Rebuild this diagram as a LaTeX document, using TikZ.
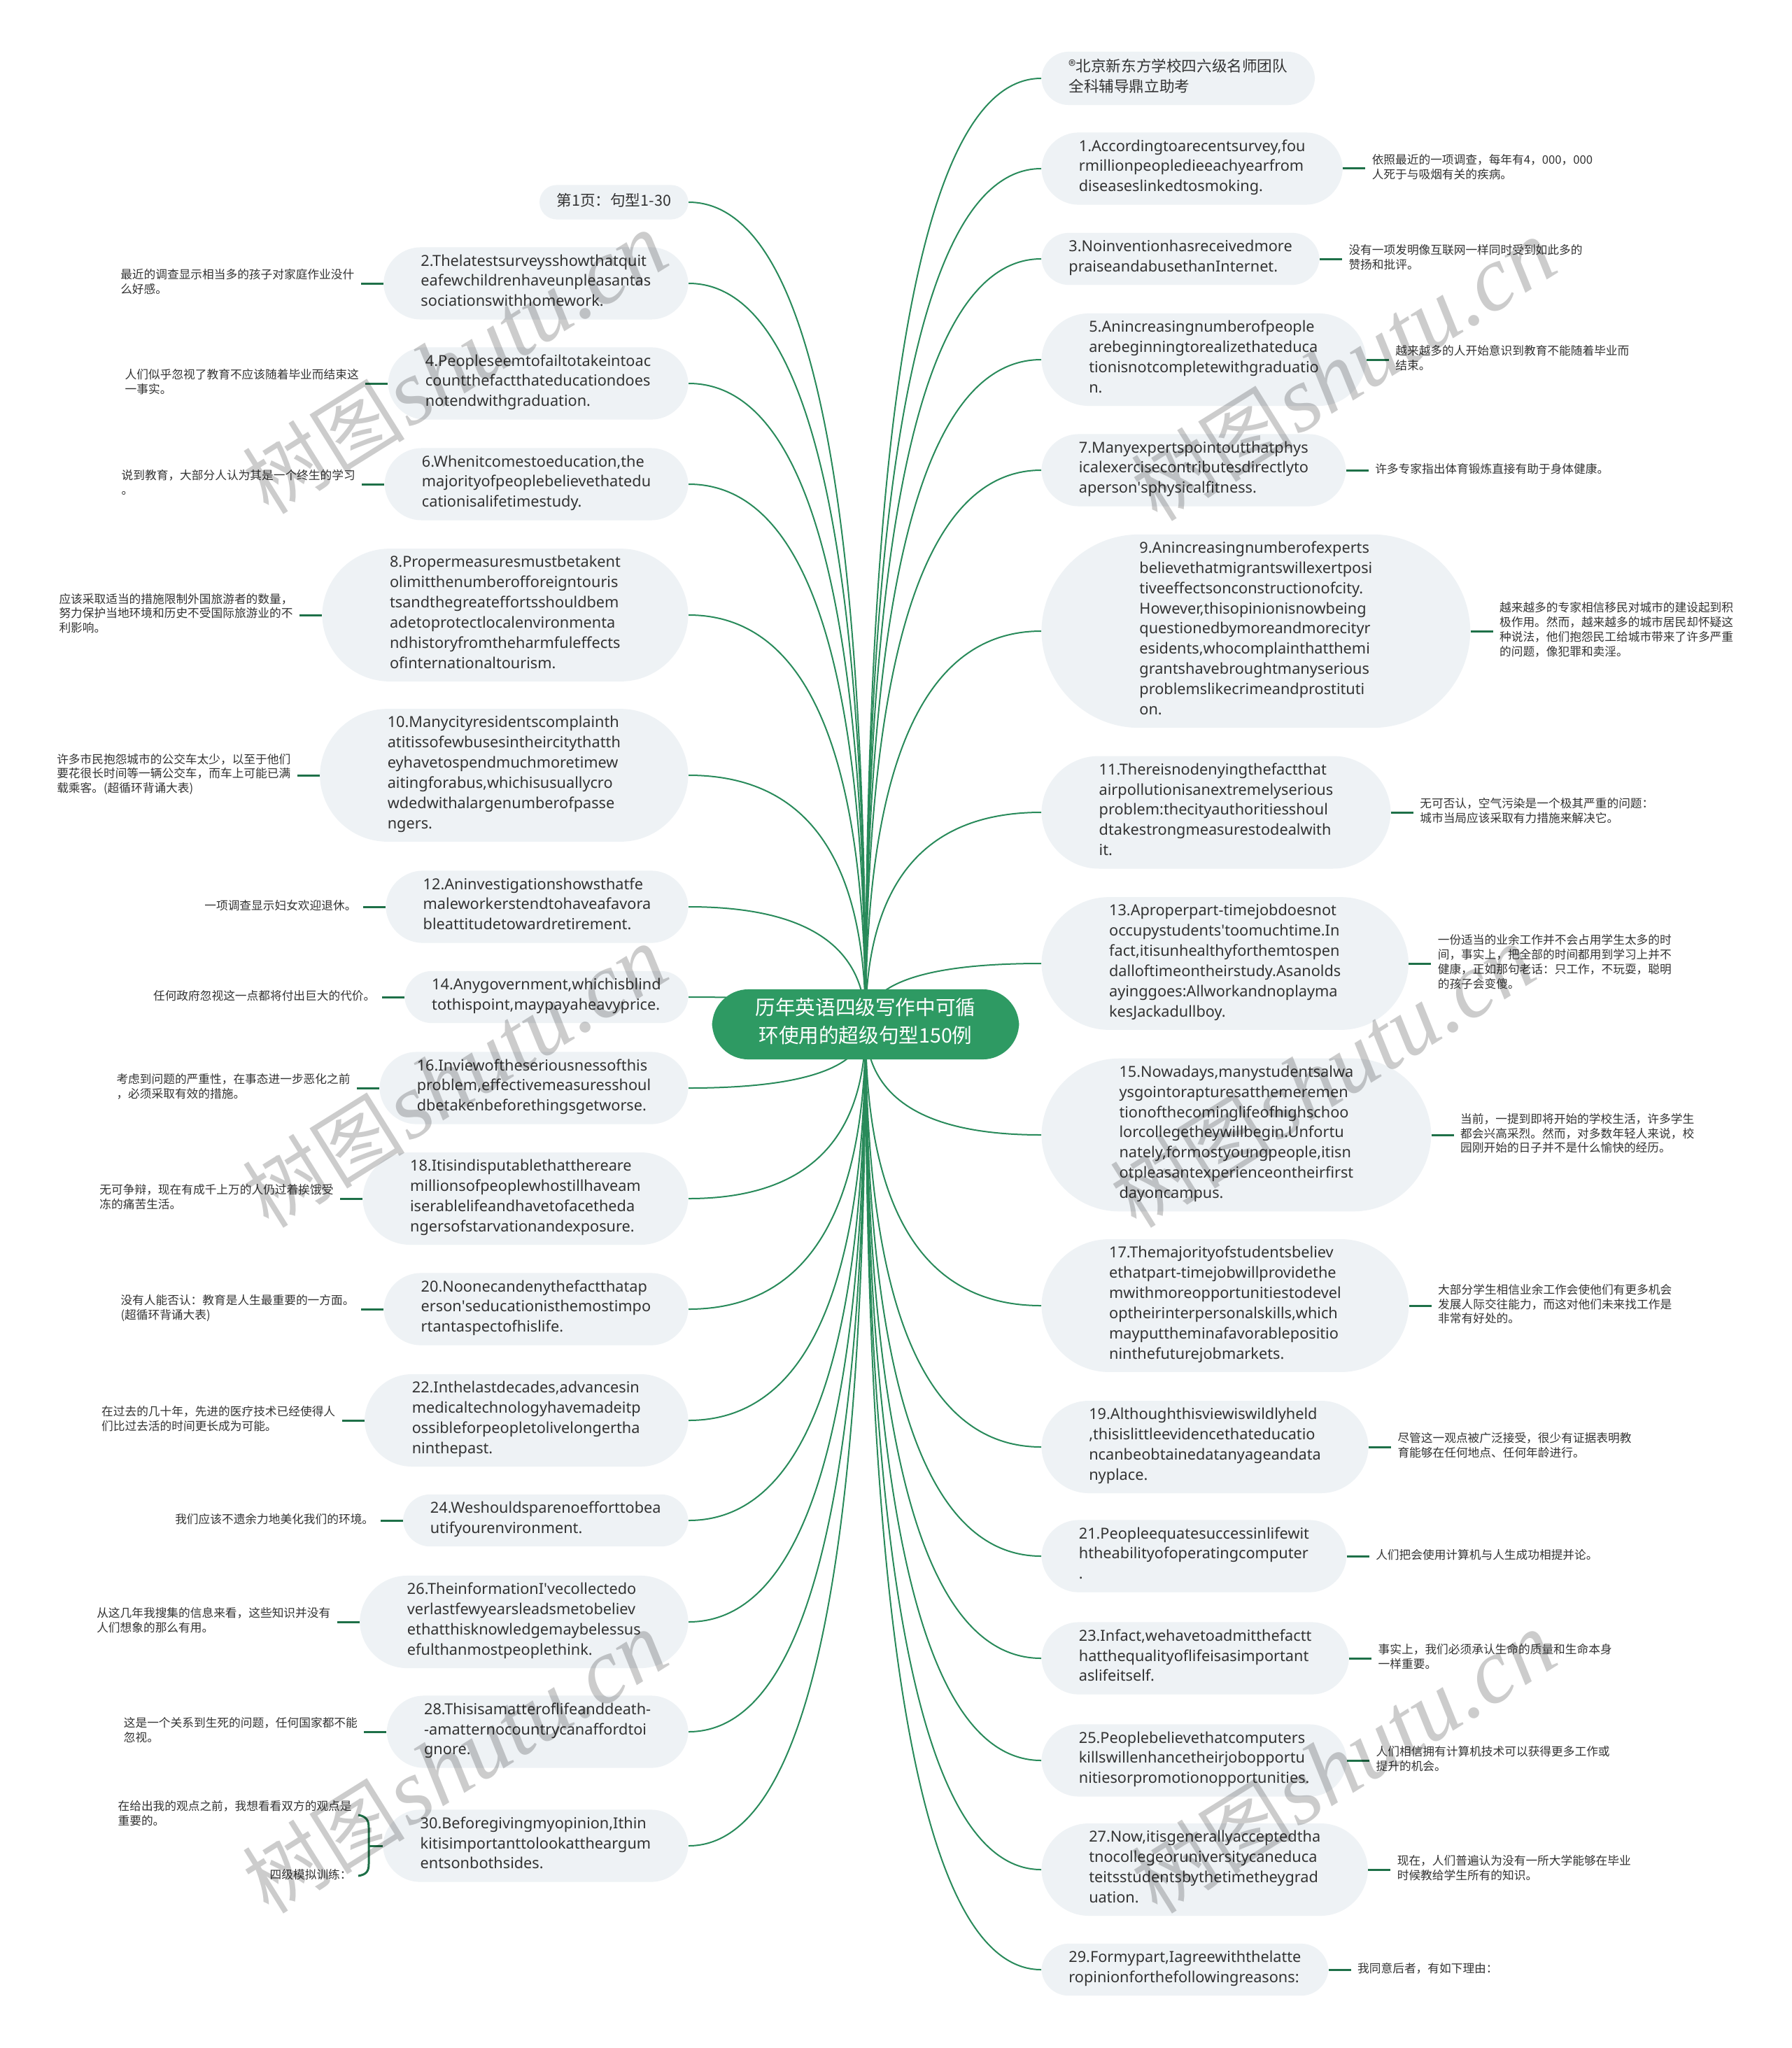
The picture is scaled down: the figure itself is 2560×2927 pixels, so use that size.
\documentclass[tikz,border=0pt]{standalone}
\usepackage{fontspec}
\setmainfont{Noto Sans}
\newfontfamily\cjk{Noto Sans CJK SC}
\newfontfamily\wmlat{Liberation Serif}
\usetikzlibrary{calc}
\pgfdeclarelayer{bg}
\pgfsetlayers{bg,main}
\definecolor{boxfill}{RGB}{238,242,245}
\definecolor{rootfill}{RGB}{46,154,99}
\definecolor{curvec}{RGB}{40,138,90}
\definecolor{stubc}{RGB}{30,112,72}
\definecolor{txt}{RGB}{51,51,51}
\newcommand{\apos}{\textquotesingle}
\newcommand{\rightitem}[5]{%
  \node[rsent,k#3] (r#1) at (1488,#2) {#4};
  \node[note,anchor=west] (n#1) at ($(r#1.east)+(32,0)$) {#5};
  \draw[stub] (r#1.east) -- (n#1.west);
  \begin{pgfonlayer}{bg}
  \draw[conn] (root.center) .. controls ($(root.center)!0.6667!(root.center |- r#1.west)$) and ($(r#1.west)!0.6667!(root.center |- r#1.west)$) .. (r#1.west);
  \end{pgfonlayer}}
\newcommand{\leftitem}[5]{%
  \node[lsent,k#3] (l#1) at (984,#2) {#4};
  \node[note,anchor=east] (m#1) at ($(l#1.west)+(-32,0)$) {#5};
  \draw[stub] (l#1.west) -- (m#1.east);
  \begin{pgfonlayer}{bg}
  \draw[conn] (root.center) .. controls ($(root.center)!0.6667!(root.center |- l#1.east)$) and ($(l#1.east)!0.6667!(root.center |- l#1.east)$) .. (l#1.east);
  \end{pgfonlayer}}
\begin{document}
\begin{tikzpicture}[x=0.5pt,y=-0.5pt,
  sent/.style={rectangle, fill=boxfill, inner ysep=5.07pt, align=left, text=txt,
    font=\fontsize{10.85pt}{14.43pt}\selectfont, execute at begin node=\strut, execute at end node=\strut},
  k1/.style={inner xsep=12.28pt, rounded corners=12.26pt},
  k2/.style={inner xsep=19.50pt, rounded corners=19.48pt},
  k3/.style={inner xsep=26.71pt, rounded corners=26.69pt},
  k4/.style={inner xsep=33.93pt, rounded corners=33.91pt},
  k5/.style={inner xsep=41.14pt, rounded corners=41.12pt},
  k6/.style={inner xsep=48.36pt, rounded corners=48.34pt},
  k7/.style={inner xsep=55.57pt, rounded corners=55.55pt},
  k9/.style={inner xsep=70.00pt, rounded corners=69.98pt},
  rsent/.style={sent, anchor=west},
  lsent/.style={sent, anchor=east},
  note/.style={inner xsep=4.5pt, inner ysep=0pt, align=left, text=txt,
    font=\cjk\fontsize{8.35pt}{10.35pt}\selectfont, execute at begin node=\strut, execute at end node=\strut},
  conn/.style={draw=curvec, line width=1pt},
  stub/.style={draw=stubc, line width=1.5pt},
  wm/.style={rotate=32, text=black, opacity=0.2, inner sep=0pt}]
\begin{pgfonlayer}{bg}
\fill[white] (0,0) rectangle (2560,2927);
\end{pgfonlayer}
\useasboundingbox (0,0) rectangle (2560,2927);

\node[rectangle, rounded corners=25.98pt, fill=rootfill, text=white, inner xsep=31pt, inner ysep=6pt, align=center,
  font=\cjk\fontsize{14.3pt}{20pt}\selectfont, execute at begin node=\strut, execute at end node=\strut]
  (root) at (1237,1464) {历年英语四级写作中可循\\环使用的超级句型150例};

% right side
\node[rsent, k2, font=\cjk\fontsize{10.8pt}{14.43pt}\selectfont] (r0) at (1488,112) {®北京新东方学校四六级名师团队\\全科辅导鼎立助考};
\begin{pgfonlayer}{bg}
\draw[conn] (root.center) .. controls ($(root.center)!0.6667!(root.center |- r0.west)$) and ($(r0.west)!0.6667!(root.center |- r0.west)$) .. (r0.west);
\end{pgfonlayer}

\rightitem{1}{241}{3}{1.Accordingtoarecentsurvey,fou\\rmillionpeopledieeachyearfrom\\diseaseslinkedtosmoking.}{依照最近的一项调查，每年有4，000，000\\人死于与吸烟有关的疾病。}
\rightitem{3}{370}{2}{3.Noinventionhasreceivedmore\\praiseandabusethanInternet.}{没有一项发明像互联网一样同时受到如此多的\\赞扬和批评。}
\rightitem{5}{514}{4}{5.Anincreasingnumberofpeople\\arebeginningtorealizethateduca\\tionisnotcompletewithgraduatio\\n.}{越来越多的人开始意识到教育不能随着毕业而\\结束。}
\rightitem{7}{672}{3}{7.Manyexpertspointoutthatphys\\icalexercisecontributesdirectlyto\\aperson\apos sphysicalfitness.}{许多专家指出体育锻炼直接有助于身体健康。}
\rightitem{9}{902}{9}{9.Anincreasingnumberofexperts\\believethatmigrantswillexertposi\\tiveeffectsonconstructionofcity.\\However,thisopinionisnowbeing\\questionedbymoreandmorecityr\\esidents,whocomplainthatthemi\\grantshavebroughtmanyserious\\problemslikecrimeandprostituti\\on.}{越来越多的专家相信移民对城市的建设起到积\\极作用。然而，越来越多的城市居民却怀疑这\\种说法，他们抱怨民工给城市带来了许多严重\\的问题，像犯罪和卖淫。}
\rightitem{11}{1161}{5}{11.Thereisnodenyingthefactthat\\airpollutionisanextremelyserious\\problem:thecityauthoritiesshoul\\dtakestrongmeasurestodealwith\\it.}{无可否认，空气污染是一个极其严重的问题：\\城市当局应该采取有力措施来解决它。}
\rightitem{13}{1377}{6}{13.Aproperpart-timejobdoesnot\\occupystudents\apos toomuchtime.In\\fact,itisunhealthyforthemtospen\\dalloftimeontheirstudy.Asanolds\\ayinggoes:Allworkandnoplayma\\kesJackadullboy.}{一份适当的业余工作并不会占用学生太多的时\\间，事实上，把全部的时间都用到学习上并不\\健康，正如那句老话：只工作，不玩耍，聪明\\的孩子会变傻。}
\rightitem{15}{1622}{7}{15.Nowadays,manystudentsalwa\\ysgointorapturesatthemeremen\\tionofthecominglifeofhighschoo\\lorcollegetheywillbegin.Unfortu\\nately,formostyoungpeople,itisn\\otpleasantexperienceontheirfirst\\dayoncampus.}{当前，一提到即将开始的学校生活，许多学生\\都会兴高采烈。然而，对多数年轻人来说，校\\园刚开始的日子并不是什么愉快的经历。}
\rightitem{17}{1866}{6}{17.Themajorityofstudentsbeliev\\ethatpart-timejobwillprovidethe\\mwithmoreopportunitiestodevel\\optheirinterpersonalskills,which\\mayputtheminafavorablepositio\\ninthefuturejobmarkets.}{大部分学生相信业余工作会使他们有更多机会\\发展人际交往能力，而这对他们未来找工作是\\非常有好处的。}
\rightitem{19}{2068}{4}{19.Althoughthisviewiswildlyheld\\,thisislittleevidencethateducatio\\ncanbeobtainedatanyageandata\\nyplace.}{尽管这一观点被广泛接受，很少有证据表明教\\育能够在任何地点、任何年龄进行。}
\rightitem{21}{2224}{3}{21.Peopleequatesuccessinlifewit\\htheabilityofoperatingcomputer\\.}{人们把会使用计算机与人生成功相提并论。}
\rightitem{23}{2370}{3}{23.Infact,wehavetoadmitthefactt\\hatthequalityoflifeisasimportant\\aslifeitself.}{事实上，我们必须承认生命的质量和生命本身\\一样重要。}
\rightitem{25}{2516}{3}{25.Peoplebelievethatcomputers\\killswillenhancetheirjobopportu\\nitiesorpromotionopportunities.}{人们相信拥有计算机技术可以获得更多工作或\\提升的机会。}
\rightitem{27}{2672}{4}{27.Now,itisgenerallyacceptedtha\\tnocollegeoruniversitycaneduca\\teitsstudentsbythetimetheygrad\\uation.}{现在，人们普遍认为没有一所大学能够在毕业\\时候教给学生所有的知识。}
\rightitem{29}{2815}{2}{29.Formypart,Iagreewiththelatte\\ropinionforthefollowingreasons:}{我同意后者，有如下理由：}

% left side
\node[lsent, k1, font=\cjk\fontsize{10.8pt}{14.43pt}\selectfont] (l0) at (984,289) {第1页：句型1-30};
\begin{pgfonlayer}{bg}
\draw[conn] (root.center) .. controls ($(root.center)!0.6667!(root.center |- l0.east)$) and ($(l0.east)!0.6667!(root.center |- l0.east)$) .. (l0.east);
\end{pgfonlayer}

\leftitem{2}{405}{3}{2.Thelatestsurveysshowthatquit\\eafewchildrenhaveunpleasantas\\sociationswithhomework.}{最近的调查显示相当多的孩子对家庭作业没什\\么好感。}
\leftitem{4}{548}{3}{4.Peopleseemtofailtotakeintoac\\countthefactthateducationdoes\\notendwithgraduation.}{人们似乎忽视了教育不应该随着毕业而结束这\\一事实。}
\leftitem{6}{692}{3}{6.Whenitcomestoeducation,the\\majorityofpeoplebelievethatedu\\cationisalifetimestudy.}{说到教育，大部分人认为其是一个终生的学习\\。}
\leftitem{8}{879}{6}{8.Propermeasuresmustbetakent\\olimitthenumberofforeigntouris\\tsandthegreateffortsshouldbem\\adetoprotectlocalenvironmenta\\ndhistoryfromtheharmfuleffects\\ofinternationaltourism.}{应该采取适当的措施限制外国旅游者的数量，\\努力保护当地环境和历史不受国际旅游业的不\\利影响。}
\leftitem{10}{1108}{6}{10.Manycityresidentscomplainth\\atitissofewbusesintheircitythatth\\eyhavetospendmuchmoretimew\\aitingforabus,whichisusuallycro\\wdedwithalargenumberofpasse\\ngers.}{许多市民抱怨城市的公交车太少，以至于他们\\要花很长时间等一辆公交车，而车上可能已满\\载乘客。(超循环背诵大表)}
\leftitem{12}{1296}{3}{12.Aninvestigationshowsthatfe\\maleworkerstendtohaveafavora\\bleattitudetowardretirement.}{一项调查显示妇女欢迎退休。}
\leftitem{14}{1425}{2}{14.Anygovernment,whichisblind\\tothispoint,maypayaheavyprice.}{任何政府忽视这一点都将付出巨大的代价。}
\leftitem{16}{1555}{3}{16.Inviewoftheseriousnessofthis\\problem,effectivemeasuresshoul\\dbetakenbeforethingsgetworse.}{考虑到问题的严重性，在事态进一步恶化之前\\，必须采取有效的措施。}
\leftitem{18}{1713}{4}{18.Itisindisputablethatthereare\\millionsofpeoplewhostillhaveam\\iserablelifeandhavetofacetheda\\ngersofstarvationandexposure.}{无可争辩，现在有成千上万的人仍过着挨饿受\\冻的痛苦生活。}
\leftitem{20}{1871}{3}{20.Noonecandenythefactthatap\\erson\apos seducationisthemostimpo\\rtantaspectofhislife.}{没有人能否认：教育是人生最重要的一方面。\\(超循环背诵大表)}
\leftitem{22}{2030}{4}{22.Inthelastdecades,advancesin\\medicaltechnologyhavemadeitp\\ossibleforpeopletolivelongertha\\ninthepast.}{在过去的几十年，先进的医疗技术已经使得人\\们比过去活的时间更长成为可能。}
\leftitem{24}{2173}{2}{24.Weshouldsparenoefforttobea\\utifyourenvironment.}{我们应该不遗余力地美化我们的环境。}
\leftitem{26}{2318}{4}{26.TheinformationI\apos vecollectedo\\verlastfewyearsleadsmetobeliev\\ethatthisknowledgemaybelessus\\efulthanmostpeoplethink.}{从这几年我搜集的信息来看，这些知识并没有\\人们想象的那么有用。}
\leftitem{28}{2475}{3}{28.Thisisamatteroflifeanddeath-\\-amatternocountrycanaffordtoi\\gnore.}{这是一个关系到生死的问题，任何国家都不能\\忽视。}

\node[lsent,k3] (l30) at (984,2638) {30.Beforegivingmyopinion,Ithin\\kitisimportanttolookattheargum\\entsonbothsides.};
\begin{pgfonlayer}{bg}
\draw[conn] (root.center) .. controls ($(root.center)!0.6667!(root.center |- l30.east)$) and ($(l30.east)!0.6667!(root.center |- l30.east)$) .. (l30.east);
\end{pgfonlayer}
\coordinate (bt) at (512,2594);
\coordinate (bb) at (512,2681);
\coordinate (bm) at (527,2638);
\draw[stub] (l30.west) -- (bm);
\draw[stub] (bt) .. controls (524,2596) and (527,2602) .. (527,2612) -- (527,2664) .. controls (527,2674) and (524,2679) .. (bb);
\node[note,anchor=east] (c1) at (bt) {在给出我的观点之前，我想看看双方的观点是\\重要的。};
\node[note,anchor=east] (c2) at (bb) {四级模拟训练：};

% watermarks
\foreach \wx/\wy [count=\i] in {650/520,1920/530,650/1540,1890/1540,650/2520,1920/2520}{
  \node[wm] (wm\i) at (\wx,\wy) {{\cjk\fontsize{58pt}{58pt}\selectfont 树图} {\wmlat\itshape\fontsize{66pt}{66pt}\selectfont shutu.cn}};
}
\end{tikzpicture}
\end{document}
